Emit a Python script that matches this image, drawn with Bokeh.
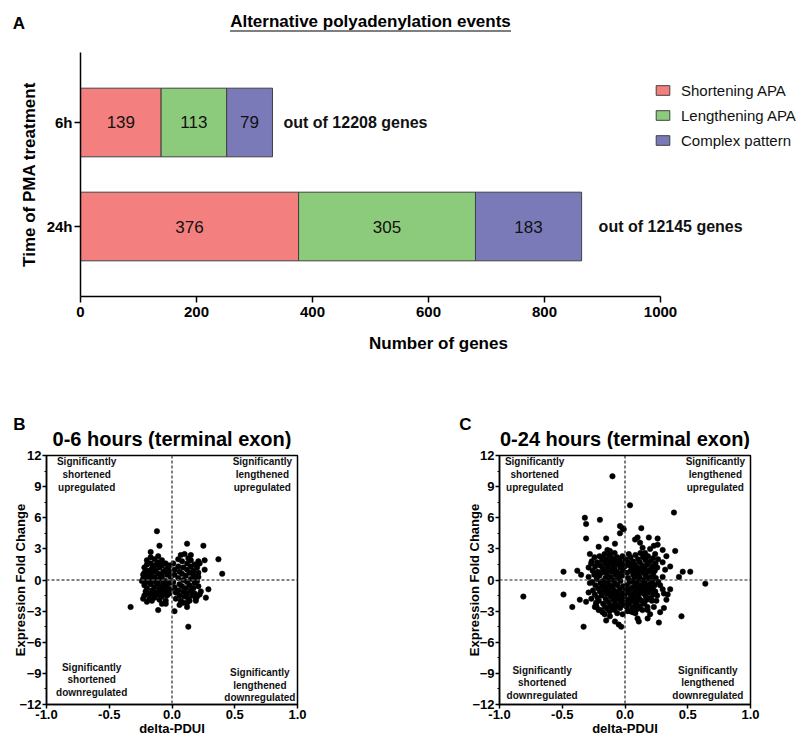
import numpy as np
from bokeh.plotting import figure
from bokeh.models import (ColumnDataSource, FactorRange, Range1d, FixedTicker,
                          NumeralTickFormatter, Span, LabelSet, Legend, LegendItem)
from bokeh.layouts import column, row
from bokeh.core.properties import value
from bokeh.embed import file_html
from bokeh.resources import INLINE

FONT = "Liberation Sans"
PAGE_W = 796

# ---------------- Panel A data ----------------
time_points = ["6h", "24h"]
shortening_apa = [139, 376]
lengthening_apa = [113, 305]
complex_pattern = [79, 183]
genes_tested = [12208, 12145]
series_names = ["Shortening APA", "Lengthening APA", "Complex pattern"]
series_colors = ["#F47F7F", "#8DCB7C", "#7A7AB9"]
genes_ticks = [0, 200, 400, 600, 800, 1000]
panel_a_title = "Alternative polyadenylation events"

# ---------------- Panels B, C data ----------------
pdui_ticks = [-1.0, -0.5, 0.0, 0.5, 1.0]
fc_ticks = [-12, -9, -6, -3, 0, 3, 6, 9, 12]
fc_minor_ticks = [-10.5, -7.5, -4.5, -1.5, 1.5, 4.5, 7.5, 10.5]
quadrant_texts = ["Significantly\nshortened\nupregulated",
                  "Significantly\nlengthened\nupregulated",
                  "Significantly\nshortened\ndownregulated",
                  "Significantly\nlengthened\ndownregulated"]
panel_b_title = "0-6 hours (terminal exon)"
panel_c_title = "0-24 hours (terminal exon)"

# 0-6 h: (delta-PDUI, expression fold change)
b_points = [
    (-0.33, -2.6), (-0.12, 4.7), (0.13, -4.5), (0.40, 0.6), (0.37, 2.0), (0.12, 3.5),
    (0.25, 3.3), (-0.10, 3.3), (-0.17, 2.7), (0.29, -0.9), (0.27, -1.7), (0.02, -3.0),
    (0.06, -2.4), (0.12, -2.6), (0.23, -1.1), (0.26, 1.0), (0.26, 1.9), (0.21, 1.8),
    (0.07, 2.4), (0.10, 2.5), (0.15, 2.4), (0.13, 2.1), (-0.08, -2.3), (-0.20, -2.1),
    (-0.23, -1.8), (0.20, -1.6), (0.19, -2.0), (0.17, 0.5), (0.21, 0.3), (-0.23, 0.5),
    (-0.24, -0.1), (-0.11, -2.9), (-0.05, -2.3), (-0.20, 1.9),
    (-0.22, 1.2), (-0.22, 0.7), (-0.23, 0.1), (-0.22, -0.5), (-0.21, -1.1), (-0.22, -1.5),
    (-0.20, 1.5), (-0.19, 0.9), (-0.20, 0.4), (-0.19, -0.2), (-0.20, -0.8), (-0.19, -1.3),
    (-0.18, -1.8), (-0.17, 2.2), (-0.17, 1.6), (-0.16, 1.1), (-0.17, 0.6), (-0.16, 0.0),
    (-0.17, -0.4), (-0.16, -1.0), (-0.17, -1.5), (-0.16, -2.0), (-0.14, 2.0), (-0.14, 1.4),
    (-0.13, 0.9), (-0.14, 0.3), (-0.13, -0.2), (-0.14, -0.7), (-0.13, -1.2), (-0.14, -1.7),
    (-0.11, 2.3), (-0.11, 1.7), (-0.10, 1.2), (-0.11, 0.6), (-0.10, 0.1), (-0.11, -0.4),
    (-0.10, -0.9), (-0.11, -1.4), (-0.10, -1.9), (-0.08, 1.9), (-0.08, 1.4), (-0.07, 0.8),
    (-0.08, 0.3), (-0.07, -0.2), (-0.08, -0.7), (-0.07, -1.2), (-0.08, -1.6), (-0.05, 1.6),
    (-0.05, 1.0), (-0.04, 0.5), (-0.05, -0.1), (-0.04, -0.6), (-0.05, -1.0), (-0.04, -1.5),
    (-0.05, -2.0), (-0.02, 1.4), (-0.02, 0.8), (-0.01, 0.3), (-0.02, -0.3), (-0.01, -0.9),
    (-0.02, -1.3), (-0.18, 0.3), (-0.15, 0.8), (-0.12, -0.1), (-0.09, 0.5), (-0.06, -0.4),
    (-0.15, -1.3), (-0.12, 1.5), (-0.21, 0.0), (-0.03, 1.2), (-0.09, -1.1),
    (0.01, 1.6), (0.02, 1.0), (0.02, 0.5), (0.01, -0.2), (0.02, -0.7), (0.03, -1.2),
    (0.03, -1.8), (0.05, 2.0), (0.05, 1.3), (0.06, 0.8), (0.05, 0.2), (0.06, -0.4),
    (0.05, -1.0), (0.06, -1.5), (0.07, -2.0), (0.08, 1.8), (0.09, 1.2), (0.08, 0.6),
    (0.09, 0.0), (0.08, -0.6), (0.09, -1.1), (0.10, -1.6), (0.09, -2.2), (0.12, 1.6),
    (0.12, 1.0), (0.11, 0.4), (0.12, -0.2), (0.11, -0.8), (0.12, -1.3), (0.13, -1.8),
    (0.12, -2.2), (0.15, 1.9), (0.15, 1.3), (0.14, 0.7), (0.15, 0.1), (0.14, -0.5),
    (0.15, -1.0), (0.16, -1.5), (0.14, -2.0), (0.18, 1.5), (0.17, 0.9), (0.18, 0.2),
    (0.18, -0.3), (0.17, -0.8), (0.18, -1.3), (0.19, -1.8), (0.20, 1.2), (0.21, 0.7),
    (0.20, -0.1), (0.21, -0.6), (0.22, -1.4), (0.22, 1.6),
]

# 0-24 h: (delta-PDUI, expression fold change)
c_points = [
    (-0.81, -1.6), (0.04, 7.2), (0.39, 6.5), (0.64, -0.35), (0.45, -3.5), (0.52, 0.8),
    (0.46, 0.8), (0.43, 0.3), (0.40, 2.8), (-0.33, -4.5), (-0.32, 6.0), (-0.31, 5.4),
    (-0.20, 5.8), (-0.31, 4.0), (-0.49, 0.8), (-0.49, -1.4), (-0.42, -2.6), (-0.03, -4.5),
    (0.27, -4.1), (0.31, -2.7), (-0.10, 10.0), (-0.04, 5.2), (-0.02, 5.0), (-0.01, 4.9),
    (-0.04, 4.5), (0.13, 5.0), (0.19, 4.1), (0.26, 4.0), (0.26, 3.4), (0.10, 4.1),
    (0.08, 3.9), (0.12, 3.6), (-0.15, 4.0), (-0.08, 3.5), (-0.21, 3.2), (0.30, 2.9),
    (0.33, 2.3), (0.30, 1.7), (0.36, 1.3), (0.32, 1.0), (0.30, 0.3), (0.34, -1.4),
    (0.33, -1.9), (0.36, -0.9), (0.28, -3.1), (0.20, -3.3), (0.10, -3.7), (0.11, -4.0),
    (0.18, -3.7), (-0.15, -3.9), (-0.08, -4.0), (-0.05, -4.3), (-0.24, -2.6), (-0.21, -2.9),
    (-0.36, -1.9), (-0.31, -2.1), (-0.38, 0.9), (-0.35, 0.5), (-0.29, 0.3), (-0.28, 2.5),
    (-0.27, 1.6), (-0.29, 1.2), (-0.28, -0.3), (-0.29, -1.2), (-0.23, -2.2), (-0.12, -3.5),
    (0.02, -3.0), (0.06, -3.1), (0.23, -2.6), (0.25, -2.0), (0.18, -2.9), (0.28, -0.5),
    (0.30, -0.9), (0.31, -1.3), (0.24, 2.5), (0.20, 3.0), (0.16, 2.6), (0.23, 3.3),
    (0.14, 3.1), (0.03, 2.5), (-0.02, 2.3), (-0.12, 2.8), (-0.17, 2.1), (-0.14, 2.9),
    (-0.265, 1.8), (-0.258, 0.9), (-0.262, -0.2), (-0.255, -1.0), (-0.268, -1.8),
    (-0.243, 2.2), (-0.238, 1.3), (-0.245, 0.5), (-0.236, -0.5), (-0.241, -1.4), (-0.233, -2.4),
    (-0.222, 1.7), (-0.217, 0.8), (-0.225, 0.1), (-0.214, -0.8), (-0.219, -1.7), (-0.226, -2.6),
    (-0.203, 2.3), (-0.197, 1.4), (-0.205, 0.4), (-0.195, -0.3), (-0.201, -1.1), (-0.208, -2.0),
    (-0.194, -2.9), (-0.183, 1.9), (-0.177, 1.1), (-0.185, 0.7), (-0.176, -0.1), (-0.181, -0.6),
    (-0.186, -1.5), (-0.174, -2.3), (-0.179, -3.1), (-0.163, 2.5), (-0.157, 1.6), (-0.165, 0.9),
    (-0.156, 0.2), (-0.161, -0.4), (-0.166, -1.0), (-0.154, -1.8), (-0.159, -2.6), (-0.162, -3.3),
    (-0.143, 2.0), (-0.137, 1.3), (-0.145, 0.6), (-0.136, -0.1), (-0.141, -0.8), (-0.146, -1.3),
    (-0.134, -2.1), (-0.139, -2.8), (-0.123, 2.4), (-0.117, 1.7), (-0.125, 1.0), (-0.116, 0.3),
    (-0.121, -0.5), (-0.126, -1.1), (-0.114, -1.6), (-0.119, -2.4), (-0.122, -3.0),
    (-0.103, 2.1), (-0.097, 1.4), (-0.105, 0.8), (-0.096, 0.0), (-0.101, -0.7), (-0.106, -1.3),
    (-0.094, -1.9), (-0.099, -2.6), (-0.083, 2.6), (-0.077, 1.8), (-0.085, 1.1), (-0.076, 0.5),
    (-0.081, -0.3), (-0.086, -1.0), (-0.074, -1.6), (-0.079, -2.2), (-0.082, -2.9),
    (-0.063, 2.2), (-0.057, 1.5), (-0.065, 0.8), (-0.056, 0.2), (-0.061, -0.5), (-0.066, -1.2),
    (-0.054, -1.8), (-0.059, -2.5), (-0.062, -3.2), (-0.043, 1.9), (-0.037, 1.2), (-0.045, 0.6),
    (-0.036, -0.1), (-0.041, -0.9), (-0.046, -1.5), (-0.034, -2.1), (-0.039, -2.7),
    (-0.023, 1.6), (-0.017, 0.9), (-0.025, 0.4), (-0.016, -0.6), (-0.021, -1.3), (-0.026, -1.9),
    (-0.014, -2.4), (-0.019, -3.3), (0.003, 2.0), (-0.002, 1.3), (0.005, -0.9), (-0.004, -1.6),
    (0.001, -2.2), (0.023, 1.7), (0.017, 0.7), (0.025, 0.2), (0.016, -0.5), (0.021, -1.2),
    (0.026, -1.9), (0.014, -2.6), (0.043, 2.2), (0.037, 1.4), (0.045, 0.9), (0.036, -0.2),
    (0.041, -0.9), (0.046, -1.5), (0.034, -2.3), (0.039, -3.0), (0.063, 1.8), (0.057, 1.1),
    (0.065, 0.5), (0.056, -0.1), (0.061, -0.7), (0.066, -1.3), (0.054, -2.0), (0.059, -2.7),
    (0.083, 2.4), (0.077, 1.5), (0.085, 0.8), (0.076, 0.2), (0.081, -0.4), (0.086, -1.0),
    (0.074, -1.7), (0.079, -2.4), (0.082, -3.2), (0.103, 2.0), (0.097, 1.2), (0.105, 0.6),
    (0.096, -0.1), (0.101, -0.8), (0.106, -1.4), (0.094, -2.1), (0.099, -2.8),
    (0.123, 2.6), (0.117, 1.7), (0.125, 1.0), (0.116, 0.3), (0.121, -0.5), (0.126, -1.1),
    (0.114, -1.8), (0.119, -2.5), (0.143, 2.2), (0.137, 1.4), (0.145, 0.7), (0.136, 0.0),
    (0.141, -0.7), (0.146, -1.3), (0.134, -2.0), (0.139, -2.9), (0.163, 1.9), (0.157, 1.1),
    (0.165, 0.4), (0.156, -0.3), (0.161, -1.0), (0.166, -1.6), (0.154, -2.3),
    (0.183, 2.3), (0.177, 1.5), (0.185, 0.8), (0.176, 0.1), (0.181, -0.6), (0.186, -1.2),
    (0.174, -1.9), (0.179, -2.6), (0.203, 1.8), (0.197, 1.0), (0.205, 0.3), (0.196, -0.4),
    (0.201, -1.0), (0.206, -1.7), (0.223, 2.1), (0.217, 1.3), (0.225, 0.6), (0.216, -0.2),
    (0.221, -0.8), (0.226, -1.4), (0.214, -2.0), (0.243, 1.6), (0.237, 0.9), (0.245, 0.2),
    (0.236, -0.5), (0.241, -1.1), (0.263, 2.0), (0.257, 1.2), (0.265, -0.2), (0.256, -1.5),
]


def strip(height):
    """Axis-less band whose data units equal pixels (x right, y down)."""
    s = figure(width=PAGE_W, height=height, x_range=Range1d(0, PAGE_W),
               y_range=Range1d(height, 0), x_axis_type=None, y_axis_type=None,
               min_border=0, output_backend="svg", toolbar_location=None,
               frame_align=False)
    s.outline_line_color = None
    return s


def bold_text(p, x, y, txt, size, align="center"):
    p.text(x=[x], y=[y], text=[txt], text_align=align, text_baseline="middle",
           text_font=value(FONT), text_font_style="bold", text_font_size=size,
           text_color="black")


# ====================== Header strip (A) ======================
sA = strip(52)
bold_text(sA, 18.5, 22.5, "A", "17px")
bold_text(sA, 370, 21, panel_a_title, "17px")
sA.segment(x0=[229.5], y0=[30.5], x1=[510.5], y1=[30.5], line_color="black", line_width=1.2)

# ====================== Panel A ======================
A_FRAME_W = PAGE_W - 80
pA = figure(frame_width=A_FRAME_W, frame_height=244,
            min_border_left=80, min_border_right=0,
            min_border_top=0, min_border_bottom=62,
            x_range=Range1d(0, A_FRAME_W / 0.58),
            y_range=FactorRange(factors=list(reversed(time_points)), range_padding=0.173),
            output_backend="svg", toolbar_location=None, frame_align=False)

left = np.zeros(len(time_points))
legend_items = []
for vals, name, col in zip([shortening_apa, lengthening_apa, complex_pattern],
                           series_names, series_colors):
    v = np.array(vals, dtype=float)
    right = left + v
    src = ColumnDataSource(dict(y=time_points, left=left, right=right,
                                mid=(left + right) / 2, lab=[str(x) for x in vals]))
    r = pA.hbar(y="y", left="left", right="right", height=0.66, source=src,
                fill_color=col, line_color="#404040", line_width=1)
    pA.text(x="mid", y="y", text="lab", source=src, text_align="center",
            text_baseline="middle", text_font=value(FONT), text_font_size="17px",
            text_color="#111111")
    legend_items.append(LegendItem(label=name, renderers=[r]))
    left = right

notes = ColumnDataSource(dict(x=left, y=time_points,
                              text=["out of %d genes" % n for n in genes_tested],
                              dx=[11, 17]))
pA.add_layout(LabelSet(x="x", y="y", text="text", x_offset="dx", source=notes,
                       text_baseline="middle", text_font=value(FONT),
                       text_font_style="bold", text_font_size="16px",
                       text_color="#111111"))

leg = Legend(items=legend_items, location=(574, 146), orientation="vertical",
             glyph_width=17, glyph_height=12, label_height=20, label_standoff=10,
             spacing=5, padding=0, margin=0, border_line_color=None,
             background_fill_alpha=0, label_text_font=FONT,
             label_text_font_size="15px", label_text_color="#111111")
pA.add_layout(leg)

pA.xaxis.ticker = FixedTicker(ticks=genes_ticks)
pA.xaxis.bounds = (genes_ticks[0], genes_ticks[-1])
pA.xaxis.axis_label = "Number of genes"
pA.yaxis.axis_label = "Time of PMA treatment"
for ax in (pA.xaxis[0], pA.yaxis[0]):
    ax.axis_line_width = 1.5
    ax.axis_line_color = "black"
    ax.major_tick_line_width = 1.5
    ax.major_tick_line_color = "black"
    ax.major_tick_out = 6
    ax.major_tick_in = 0
    ax.minor_tick_line_color = None
    ax.major_label_text_font = FONT
    ax.major_label_text_font_style = "bold"
    ax.major_label_text_font_size = "15px"
    ax.major_label_text_color = "black"
    ax.axis_label_text_font = FONT
    ax.axis_label_text_font_style = "bold"
    ax.axis_label_text_font_size = "17px"
    ax.axis_label_text_color = "black"
pA.xaxis.major_label_standoff = 4
pA.xaxis.axis_label_standoff = 14
pA.yaxis.major_label_standoff = 2
pA.yaxis.axis_label_standoff = 5
pA.xgrid.visible = False
pA.ygrid.visible = False
pA.outline_line_color = None

# ====================== Header strip (B, C) ======================
sBC = strip(91)
bold_text(sBC, 19, 66, "B", "17px")
bold_text(sBC, 465, 66, "C", "17px")
bold_text(sBC, 171.5, 80, panel_b_title, "20px")
bold_text(sBC, 624.5, 80, panel_c_title, "20px")


# ====================== Panels B, C ======================
def scatter_panel(points, border_left, border_right, ylab_standoff, quad_xy,
                  dash_color, dash_width):
    p = figure(frame_width=251, frame_height=249,
               min_border_left=border_left, min_border_right=border_right,
               min_border_top=6, min_border_bottom=32,
               x_range=Range1d(pdui_ticks[0], pdui_ticks[-1]),
               y_range=Range1d(fc_ticks[0], fc_ticks[-1]),
               output_backend="svg", toolbar_location=None, frame_align=False)
    p.xgrid.visible = False
    p.ygrid.visible = False
    p.outline_line_color = "black"
    p.outline_line_width = 1.5
    p.outline_line_alpha = 1.0

    p.add_layout(Span(location=0, dimension="height", line_color=dash_color,
                      line_width=dash_width, line_dash="3 2"))
    p.add_layout(Span(location=0, dimension="width", line_color=dash_color,
                      line_width=dash_width, line_dash="3 2"))

    xs = [pt[0] for pt in points]
    ys = [pt[1] for pt in points]
    p.scatter(x=xs, y=ys, size=5.5, fill_color="black", line_color="black",
              line_width=0.5)

    p.text(x=[q[0] for q in quad_xy], y=[q[1] for q in quad_xy], text=quadrant_texts,
           text_align="center", text_baseline="top", text_font=value(FONT),
           text_font_style="bold", text_font_size="10px", text_line_height=1.15,
           text_color="#111111")

    p.xaxis.ticker = FixedTicker(ticks=pdui_ticks)
    p.xaxis.formatter = NumeralTickFormatter(format="0.0")
    p.yaxis.ticker = FixedTicker(ticks=fc_ticks, minor_ticks=fc_minor_ticks)
    p.xaxis.axis_label = "delta-PDUI"
    p.yaxis.axis_label = "Expression Fold Change"
    for ax in (p.xaxis[0], p.yaxis[0]):
        ax.axis_line_width = 1.5
        ax.axis_line_color = "black"
        ax.major_tick_line_width = 1.5
        ax.major_tick_line_color = "black"
        ax.major_tick_out = 4
        ax.major_tick_in = 0
        ax.minor_tick_out = 2
        ax.minor_tick_in = 0
        ax.minor_tick_line_width = 1
        ax.minor_tick_line_color = "black"
        ax.major_label_text_font = FONT
        ax.major_label_text_font_style = "bold"
        ax.major_label_text_font_size = "13px"
        ax.major_label_text_color = "black"
        ax.axis_label_text_font = FONT
        ax.axis_label_text_font_style = "bold"
        ax.axis_label_text_font_size = "13px"
        ax.axis_label_text_color = "black"
    p.xaxis.major_label_standoff = 1
    p.xaxis.axis_label_standoff = -1
    p.yaxis.major_label_standoff = 1
    p.yaxis.axis_label_standoff = ylab_standoff
    return p


pB = scatter_panel(b_points, 46, 123, -12,
                   [(-0.68, 11.93), (0.72, 11.93), (-0.64, -7.87), (0.70, -8.4)],
                   "#555555", 1.5)
pC = scatter_panel(c_points, 79, 46, -13,
                   [(-0.72, 11.93), (0.72, 11.93), (-0.66, -8.16), (0.66, -8.16)],
                   "#222222", 1.2)

layout = column(sA, pA, sBC, row(pB, pC))
open("out.html", "w").write(file_html(layout, INLINE))
